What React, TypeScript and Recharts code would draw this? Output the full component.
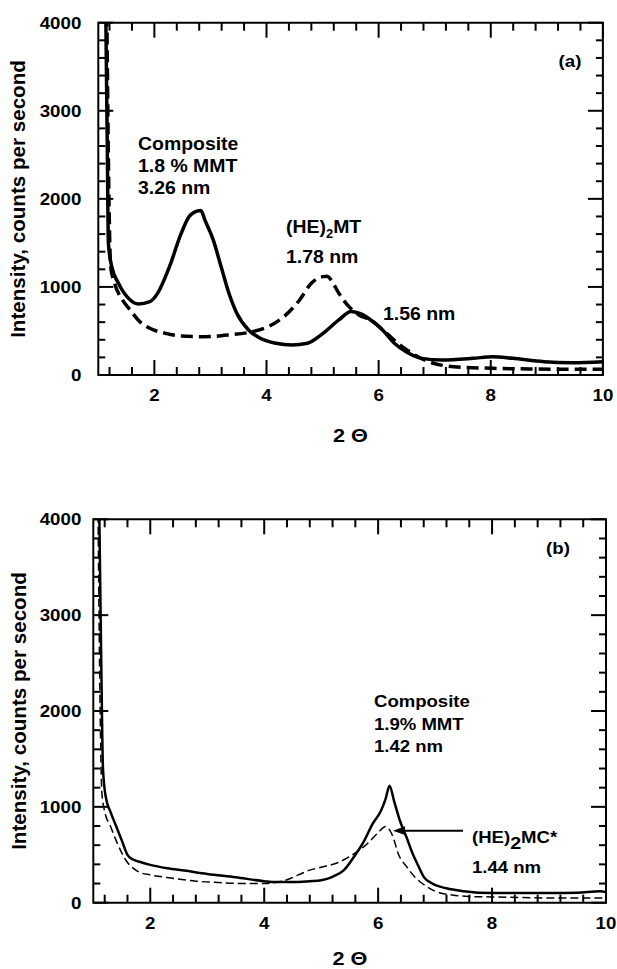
import { LineChart, Line, XAxis, YAxis, ReferenceArea } from 'recharts';

const FONT = '"Liberation Sans", Arial, Helvetica, sans-serif';

// ---- panel (a) ----
// composite, 1.8 % MMT (solid)
const aCompositeTheta = [1.13, 1.16, 1.18, 1.24, 1.36, 1.57, 1.71, 1.92, 2.06, 2.27, 2.48, 2.62, 2.76, 2.83, 2.9, 3.05, 3.19, 3.33, 3.47, 3.68, 3.89, 4.17, 4.45, 4.73, 5.01, 5.29, 5.51, 5.65, 5.86, 6.07, 6.28, 6.49, 6.77, 7.12, 7.68, 8.04, 8.39, 8.95, 9.45, 10];
const aCompositeCounts = [4300, 2600, 1500, 1231, 1042, 852, 807, 833, 930, 1231, 1610, 1799, 1860, 1867, 1761, 1534, 1231, 928, 701, 511, 417, 360, 341, 360, 473, 625, 720, 701, 625, 511, 360, 265, 189, 170, 189, 208, 189, 151, 140, 151];
// (HE)2MT clay (dashed)
const aClayTheta = [1.15, 1.19, 1.22, 1.29, 1.43, 1.57, 1.71, 1.92, 2.2, 2.48, 2.9, 3.33, 3.75, 4.03, 4.31, 4.59, 4.8, 5.01, 5.08, 5.15, 5.29, 5.47, 5.65, 5.86, 6.14, 6.42, 6.7, 6.98, 7.34, 8.04, 8.74, 9.45, 10];
const aClayCounts = [4300, 2000, 1231, 1042, 852, 739, 625, 530, 473, 443, 435, 455, 492, 549, 663, 852, 1042, 1117, 1120, 1080, 928, 776, 682, 625, 473, 322, 208, 133, 95, 76, 68, 64, 64];

// ---- panel (b) ----
// composite, 1.9% MMT (solid)
const bCompositeTheta = [1.1, 1.14, 1.17, 1.22, 1.3, 1.4, 1.5, 1.6, 1.7, 1.85, 2.0, 2.3, 2.6, 3.0, 3.5, 4.0, 4.2, 4.5, 4.8, 5.0, 5.2, 5.4, 5.6, 5.75, 5.9, 6.05, 6.13, 6.2, 6.28, 6.38, 6.5, 6.6, 6.7, 6.8, 6.95, 7.2, 7.5, 8.0, 8.5, 9.0, 9.5, 9.9, 10];
const bCompositeCounts = [4300, 2500, 1400, 1100, 950, 800, 650, 500, 450, 420, 395, 360, 335, 300, 265, 225, 215, 215, 225, 235, 270, 340, 500, 640, 820, 960, 1080, 1220, 1060, 860, 680, 520, 390, 270, 200, 150, 120, 100, 100, 100, 105, 120, 110];
// (HE)2MC* clay (dashed)
const bClayTheta = [1.08, 1.12, 1.15, 1.2, 1.3, 1.4, 1.5, 1.6, 1.7, 1.8, 2.0, 2.4, 2.8, 3.2, 3.6, 4.0, 4.2, 4.4, 4.6, 4.8, 5.0, 5.3, 5.6, 5.8, 6.0, 6.13, 6.2, 6.26, 6.35, 6.5, 6.64, 6.8, 7.0, 7.3, 7.6, 8.0, 9.0, 10];
const bClayCounts = [4300, 2000, 1150, 950, 800, 650, 520, 420, 360, 320, 290, 255, 225, 210, 200, 200, 210, 240, 290, 340, 370, 420, 520, 610, 730, 795, 760, 690, 515, 376, 271, 190, 120, 80, 65, 60, 50, 50];

// axes
const xTicks = [1.2, 1.6, 2, 2.4, 2.8, 3.2, 3.6, 4, 4.4, 4.8, 5.2, 5.6, 6, 6.4, 6.8, 7.2, 7.6, 8, 8.4, 8.8, 9.2, 9.6, 10];
const xLabels = [2, 4, 6, 8, 10];
const yTicks = [0, 200, 400, 600, 800, 1000, 1200, 1400, 1600, 1800, 2000, 2200, 2400, 2600, 2800, 3000, 3200, 3400, 3600, 3800, 4000];
const yLabels = [0, 1000, 2000, 3000, 4000];

const toPoints = (xs: number[], ys: number[]) => xs.map((x, i) => ({ x, y: ys[i] }));

// bold text, a bit wider than the font draws it (the scan is stretched sideways)
function SText({ x, y, size, sx = 1.1, anchor = 'start', rot = 0, children }: any) {
  return (
    <text
      transform={`translate(${x} ${y}) rotate(${rot}) scale(${sx} 1)`}
      textAnchor={anchor}
      fontFamily={FONT}
      fontWeight="bold"
      fontSize={size}
      fill="#000"
    >
      {children}
    </text>
  );
}

function makeXTick(plotH: number) {
  return (props: any) => {
    const { x, y, payload } = props;
    const major = xLabels.includes(payload.value);
    const len = major ? 15 : 8;
    return (
      <g>
        <line x1={x} x2={x} y1={y} y2={y - len} stroke="#000" strokeWidth={2} />
        <line x1={x} x2={x} y1={y - plotH} y2={y - plotH + len} stroke="#000" strokeWidth={2} />
        {major && (
          <SText x={x} y={y + 26} size={16} sx={1.17} anchor="middle">
            {payload.value}
          </SText>
        )}
      </g>
    );
  };
}

function makeYTick(plotW: number, gap: number) {
  return (props: any) => {
    const { x, y, payload } = props;
    const major = yLabels.includes(payload.value);
    const len = major ? 15 : 7;
    return (
      <g>
        <line x1={x} x2={x + len} y1={y} y2={y} stroke="#000" strokeWidth={2} />
        <line x1={x + plotW} x2={x + plotW - len} y1={y} y2={y} stroke="#000" strokeWidth={2} />
        {major && (
          <SText x={x - gap} y={y + 6} size={16} sx={1.17} anchor="end">
            {payload.value}
          </SText>
        )}
      </g>
    );
  };
}

type PanelProps = {
  top: number;
  height: number;
  margin: { top: number; right: number; left: number; bottom: number };
  yWidth: number;
  xHeight: number;
  plotW: number;
  plotH: number;
  gap: number;
  solid: { x: number; y: number }[];
  dashed: { x: number; y: number }[];
  solidWidth: number;
  dashedWidth: number;
  dash: string;
};

function Panel(p: PanelProps) {
  return (
    <div style={{ position: 'absolute', left: 0, top: p.top }}>
      <LineChart width={617} height={p.height} margin={p.margin}>
        <XAxis
          type="number"
          dataKey="x"
          domain={[1, 10]}
          allowDataOverflow
          ticks={xTicks}
          interval={0}
          height={p.xHeight}
          axisLine={false}
          tickLine={false}
          tickSize={0}
          tickMargin={0}
          tick={makeXTick(p.plotH)}
        />
        <YAxis
          type="number"
          dataKey="y"
          domain={[0, 4000]}
          allowDataOverflow
          ticks={yTicks}
          interval={0}
          width={p.yWidth}
          axisLine={false}
          tickLine={false}
          tickSize={0}
          tickMargin={0}
          tick={makeYTick(p.plotW, p.gap)}
        />
        <ReferenceArea x1={1} x2={10} y1={0} y2={4000} fill="none" stroke="#000" strokeWidth={2} />
        <Line
          data={p.dashed}
          dataKey="y"
          type="monotone"
          stroke="#000"
          strokeWidth={p.dashedWidth}
          strokeDasharray={p.dash}
          dot={false}
          isAnimationActive={false}
        />
        <Line
          data={p.solid}
          dataKey="y"
          type="monotone"
          stroke="#000"
          strokeWidth={p.solidWidth}
          dot={false}
          isAnimationActive={false}
        />
      </LineChart>
    </div>
  );
}

export default function App() {
  return (
    <div style={{ position: 'absolute', left: 0, top: 0, width: 617, height: 969, background: '#fff' }}>
      <Panel
        top={0}
        height={460}
        margin={{ top: 22.7, right: 14.1, left: 0, bottom: 0 }}
        yWidth={98.3}
        xHeight={85}
        plotW={504.6}
        plotH={352.3}
        gap={17}
        solid={toPoints(aCompositeTheta, aCompositeCounts)}
        dashed={toPoints(aClayTheta, aClayCounts)}
        solidWidth={3.5}
        dashedWidth={3.5}
        dash="12 6"
      />
      <Panel
        top={480}
        height={489}
        margin={{ top: 39.3, right: 11, left: 0, bottom: 0 }}
        yWidth={93.3}
        xHeight={66.3}
        plotW={512.7}
        plotH={383.4}
        gap={12}
        solid={toPoints(bCompositeTheta, bCompositeCounts)}
        dashed={toPoints(bClayTheta, bClayCounts)}
        solidWidth={2.5}
        dashedWidth={1.5}
        dash="8 4"
      />
      <svg width={617} height={969} style={{ position: 'absolute', left: 0, top: 0, pointerEvents: 'none' }}>
        {/* axis titles */}
        <SText x={25} y={199} size={20} sx={1.03} rot={-90} anchor="middle">Intensity, counts per second</SText>
        <SText x={350.5} y={442} size={19} sx={1.14} anchor="middle">2 Θ</SText>
        <SText x={26} y={711} size={20} sx={1.03} rot={-90} anchor="middle">Intensity, counts per second</SText>
        <SText x={350} y={965} size={19} sx={1.14} anchor="middle">2 Θ</SText>

        {/* panel (a) notes */}
        <SText x={570} y={67} size={17} anchor="middle">(a)</SText>
        <SText x={138} y={150} size={18} sx={1.08}>Composite</SText>
        <SText x={138} y={172} size={18} sx={1.08}>1.8 % MMT</SText>
        <SText x={138} y={194} size={18} sx={1.08}>3.26 nm</SText>
        <SText x={286} y={233} size={18} sx={1.08}>
          (HE)<tspan fontSize={12} dy={5}>2</tspan><tspan dy={-5}>MT</tspan>
        </SText>
        <SText x={286} y={263} size={18} sx={1.08}>1.78 nm</SText>
        <SText x={383} y={320} size={18} sx={1.08}>1.56 nm</SText>

        {/* panel (b) notes */}
        <SText x={558} y={554} size={17} anchor="middle">(b)</SText>
        <SText x={374} y={707} size={16} sx={1.16}>Composite</SText>
        <SText x={374} y={730} size={16} sx={1.16}>1.9% MMT</SText>
        <SText x={374} y={752} size={16} sx={1.16}>1.42 nm</SText>
        <SText x={472} y={843} size={16} sx={1.16}>
          (HE)<tspan fontSize={17} dy={6}>2</tspan><tspan dy={-6}>MC*</tspan>
        </SText>
        <SText x={472} y={873} size={16} sx={1.16}>1.44 nm</SText>
        <line x1={463} y1={830.7} x2={402} y2={830.7} stroke="#000" strokeWidth={2} />
        <polygon points="393,830.7 405,826.3 405,835.1" fill="#000" />
      </svg>
    </div>
  );
}
